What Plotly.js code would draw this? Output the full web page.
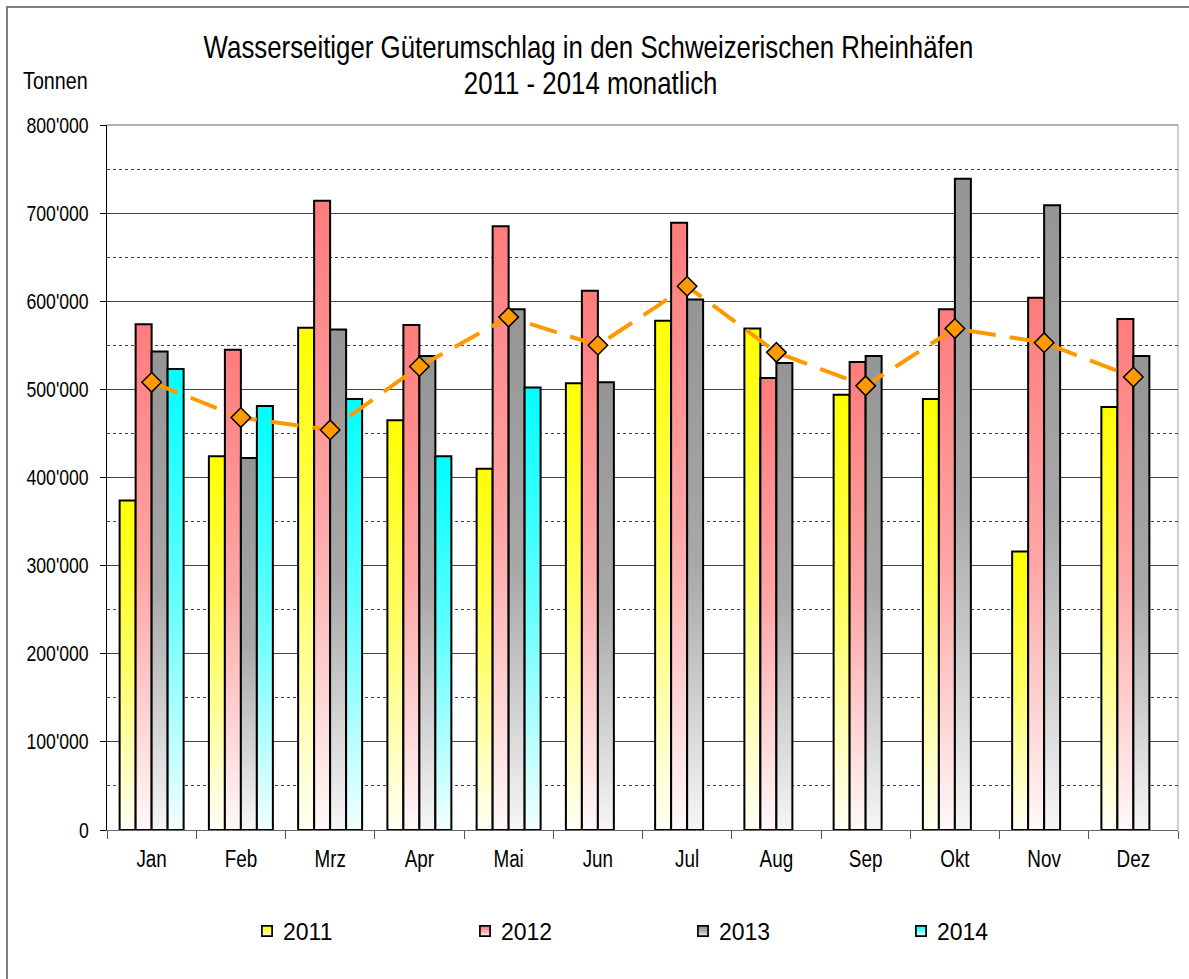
<!DOCTYPE html>
<html><head><meta charset="utf-8">
<script src="https://cdn.plot.ly/plotly-3.0.1.min.js"></script>
<style>
body{margin:0;background:#fff;}
#chart{position:absolute;left:0;top:0;width:1189px;height:979px;}
#frame{position:absolute;left:6px;top:6px;width:1300px;height:1100px;border-left:2px solid #808080;border-top:2px solid #808080;pointer-events:none;}
</style></head>
<body>
<div id="chart"></div>
<div id="frame"></div>
<svg width="0" height="0" style="position:absolute">
<defs>
<linearGradient id="g0" x1="0" y1="0" x2="0" y2="1"><stop offset="0" stop-color="#FFFF00"/><stop offset="0.5" stop-color="#FFFF66"/><stop offset="1" stop-color="#FFFFF6"/></linearGradient>
<linearGradient id="g1" x1="0" y1="0" x2="0" y2="1"><stop offset="0" stop-color="#FF7C7C"/><stop offset="0.5" stop-color="#FFA6A6"/><stop offset="1" stop-color="#FFF8F8"/></linearGradient>
<linearGradient id="g2" x1="0" y1="0" x2="0" y2="1"><stop offset="0" stop-color="#959595"/><stop offset="0.5" stop-color="#A8A8A8"/><stop offset="1" stop-color="#F6F6F6"/></linearGradient>
<linearGradient id="g3" x1="0" y1="0" x2="0" y2="1"><stop offset="0" stop-color="#00FFFF"/><stop offset="0.5" stop-color="#66FFFF"/><stop offset="1" stop-color="#F2FFFF"/></linearGradient>
</defs></svg>
<script>
const months = ['Jan','Feb','Mrz','Apr','Mai','Jun','Jul','Aug','Sep','Okt','Nov','Dez'];
const y2011 = [374000,424000,570000,465000,410000,507000,578000,569000,494000,489000,316000,480000];
const y2012 = [574000,545000,714000,573000,685000,612000,689000,513000,531000,591000,604000,580000];
const y2013 = [543000,422000,568000,538000,591000,508000,602000,530000,538000,739000,709000,538000];
const y2014 = [523000,481000,489000,424000,502000,null,null,null,null,null,null,null];
const avgLine = [508000,468000,454000,526000,582000,550000,617000,542000,504000,569000,553000,514000];
const seriesNames = ['2011','2012','2013','2014'];
const seriesColors = ['#FFFF00','#FF8080','#969696','#00FFFF'];

const FONT = '"Liberation Sans", Arial, sans-serif';
const W = 1071, H = 705, L = 107, T = 125;
const px = v => (v - L) / W;
const py = v => (T + H - v) / H;

const series = [y2011, y2012, y2013, y2014];
const traces = series.map((ys, i) => ({
  type: 'bar', x: months, y: ys, name: seriesNames[i],
  marker: {color: seriesColors[i], line: {color: '#000', width: 2}},
  hoverinfo: 'skip'
}));
traces.push({
  type: 'scatter', mode: 'lines+markers', x: months, y: avgLine, showlegend: false,
  line: {color: '#FF9900', width: 4, dash: '28px,14px'},
  marker: {symbol: 'diamond', size: 15, color: '#FF9900', line: {color: '#000', width: 1.5}},
  hoverinfo: 'skip'
});

const layout = {
  width: 1189, height: 979,
  margin: {l: 107, r: 11, t: 125, b: 149, pad: 0, autoexpand: false},
  paper_bgcolor: '#fff', plot_bgcolor: '#fff',
  separators: ".'",
  font: {family: FONT, size: 22, color: '#000'},
  barmode: 'group', bargap: 0.283, bargroupgap: 0,
  showlegend: true,
  legend: {orientation: 'h', x: px(243), xanchor: 'left', y: py(931), yanchor: 'middle',
           entrywidth: 173, entrywidthmode: 'pixels', font: {family: FONT, size: 23},
           traceorder: 'normal', bgcolor: 'rgba(0,0,0,0)'},
  xaxis: {type: 'category', range: [-0.5, 11.5], showgrid: false, zeroline: false,
          showline: true, linecolor: '#666', linewidth: 1,
          ticks: 'outside', tickson: 'boundaries', ticklen: 8, tickcolor: '#555', tickwidth: 1,
          tickfont: {family: FONT, size: 23}, ticklabelstandoff: 8},
  yaxis: {range: [0, 800000], dtick: 100000, tickformat: ',d', zeroline: false,
          showline: true, linecolor: '#000', linewidth: 1,
          ticks: 'outside', ticklen: 6, tickcolor: '#000',
          showgrid: true, gridcolor: '#444', gridwidth: 1,
          minor: {dtick: 50000, showgrid: true, gridcolor: '#444', griddash: 'dot', gridwidth: 1, ticks: ''},
          tickfont: {family: FONT, size: 21.5}, ticklabelstandoff: 7},
  shapes: [
    {type: 'line', xref: 'paper', yref: 'paper', x0: 1, x1: 1, y0: 0, y1: 1, line: {color: '#A0A0A0', width: 1}, layer: 'below'},
    {type: 'line', xref: 'paper', yref: 'paper', x0: 0, x1: 1, y0: 1, y1: 1, line: {color: '#666', width: 1}, layer: 'below'}
  ],
  annotations: [
    {text: 'Wasserseitiger Güterumschlag in den Schweizerischen Rheinhäfen', xref: 'paper', yref: 'paper',
     x: px(588), y: py(47), xanchor: 'center', yanchor: 'middle', showarrow: false, font: {family: FONT, size: 31.5}},
    {text: '2011 - 2014 monatlich', xref: 'paper', yref: 'paper',
     x: px(590), y: py(83), xanchor: 'center', yanchor: 'middle', showarrow: false, font: {family: FONT, size: 31.5}},
    {text: 'Tonnen', xref: 'paper', yref: 'paper',
     x: px(55), y: py(80), xanchor: 'center', yanchor: 'middle', showarrow: false, font: {family: FONT, size: 24}}
  ]
};

function applyGrad() {
  document.querySelectorAll('#chart .barlayer .trace').forEach((t, i) => {
    t.querySelectorAll('path').forEach(p => { p.style.fill = 'url(#g' + i + ')'; });
  });
  document.querySelectorAll('#chart .legend .traces').forEach((t, i) => {
    t.querySelectorAll('.legendpoints path').forEach(p => { p.style.fill = 'url(#g' + i + ')'; });
    const lp = t.querySelector('.legendpoints');
    if (lp) lp.setAttribute('transform', (lp.getAttribute('transform') || '') + ' translate(7,0) scale(0.85,0.85)');
  });
}
// Arial Narrow is not installed: condense the (Arial-metric) text horizontally around its anchor
function narrowText() {
  document.querySelectorAll('#chart svg text').forEach(t => {
    if (t.closest('.legend')) return;
    const x = parseFloat(t.getAttribute('x')) || 0, y = parseFloat(t.getAttribute('y')) || 0;
    const tr = t.getAttribute('transform') || '';
    t.setAttribute('transform', tr + ' translate(' + x + ',' + y + ') scale(0.82,1) translate(' + (-x) + ',' + (-y) + ')');
  });
}

Plotly.newPlot('chart', traces, layout, {displayModeBar: false, staticPlot: true}).then(() => { applyGrad(); narrowText(); });
</script>
</body></html>
